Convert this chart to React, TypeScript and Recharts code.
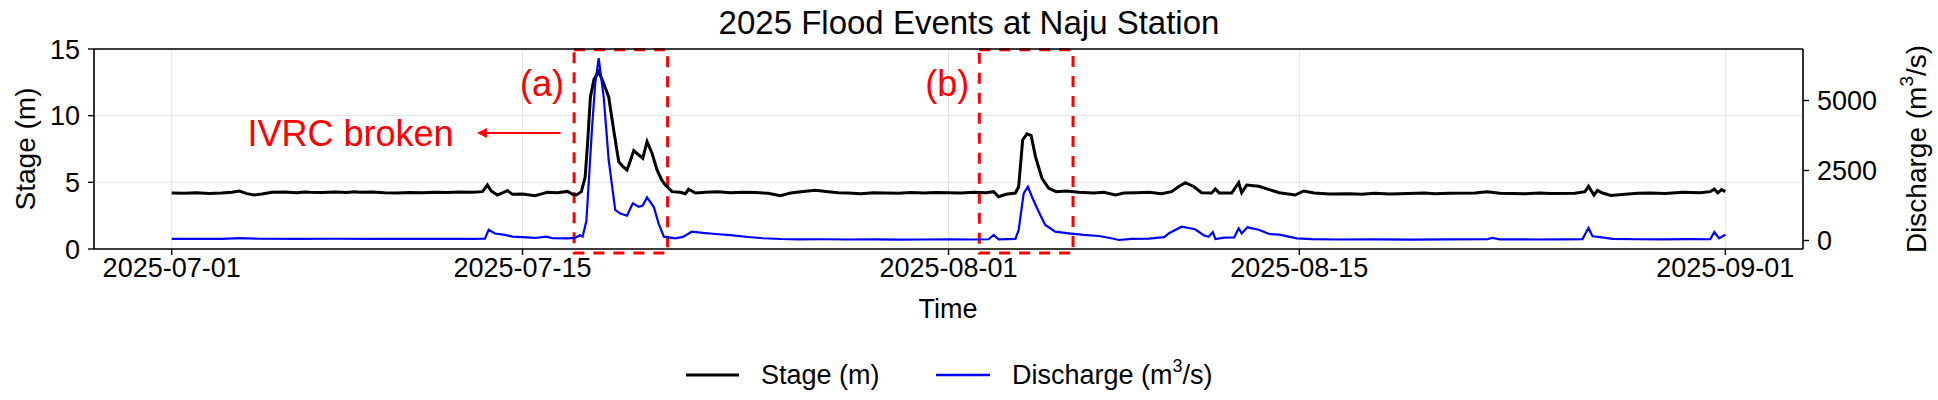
import {
  ComposedChart,
  Line,
  XAxis,
  YAxis,
  CartesianGrid,
  ReferenceArea,
  ReferenceLine,
  ReferenceDot,
} from "recharts";

// time axis: days since 2025-07-01 00:00
const tickDays = [0, 14, 31, 45, 62];
const tickLabels = ["2025-07-01", "2025-07-15", "2025-08-01", "2025-08-15", "2025-09-01"];

// water stage (m)
const stageDay = [
  0, 0.5, 1, 1.5, 2, 2.4, 2.7, 3, 3.3, 3.6, 4, 4.5, 5, 5.3, 5.5, 6, 6.5, 7, 7.3, 7.5, 8, 8.5,
  9, 9.5, 10, 10.5, 11, 11.5, 12, 12.4, 12.6, 12.75, 13, 13.2, 13.4, 13.6, 14, 14.5,
  14.8, 15, 15.4, 15.8, 16, 16.15, 16.35, 16.5, 16.6, 16.71, 16.85, 17.04, 17.2, 17.44,
  17.64, 17.84, 18, 18.17, 18.3, 18.44, 18.64, 18.8, 18.97, 19.17, 19.37, 19.55, 19.7,
  19.97, 20.3, 20.5, 20.63, 20.9, 21.3, 21.8, 22.3, 22.8, 23.3, 23.8, 24.29, 24.7, 25.2,
  25.69, 26.2, 26.6, 27, 27.5, 28, 28.5, 29, 29.5, 30, 30.5, 31, 31.5, 32, 32.5, 32.8,
  33, 33.3, 33.67, 33.8, 33.96, 34.13, 34.3, 34.47, 34.73, 35, 35.3, 35.7, 36.2, 36.8,
  37.2, 37.66, 38, 38.5, 39, 39.5, 39.9, 40.18, 40.45, 40.8, 41.1, 41.5, 41.65, 41.8,
  42.3, 42.58, 42.7, 42.9, 43.38, 43.8, 44.2, 44.84, 45.17, 45.6, 46.2, 47, 47.5, 48,
  48.6, 49, 50, 50.4, 51, 52, 52.5, 53, 54, 54.6, 55, 56, 56.4, 56.54, 56.76, 56.9, 57.1, 57.44, 58,
  58.5, 59, 59.6, 60.3, 61, 61.4, 61.56, 61.7, 61.85, 62,
];
const stageM = [
  4.2, 4.18, 4.22, 4.17, 4.2, 4.25, 4.35, 4.15, 4.05, 4.12, 4.25, 4.28, 4.22, 4.28, 4.26, 4.24, 4.27, 4.23, 4.29, 4.25, 4.28, 4.22,
  4.2, 4.24, 4.21, 4.26, 4.24, 4.27, 4.25, 4.3, 4.8, 4.35, 4.05, 4.2, 4.38, 4.1, 4.12, 4.0,
  4.15, 4.25, 4.22, 4.32, 4.1, 4.05, 4.3, 5.4, 8.0, 11.4, 12.7, 13.3, 12.6, 11.4,
  8.9, 6.55, 6.2, 5.93, 6.6, 7.38, 7.05, 6.8, 8.05, 7.18, 5.93, 5.2, 4.8,
  4.3, 4.25, 4.15, 4.48, 4.2, 4.25, 4.3, 4.22, 4.26, 4.24, 4.18, 4.0, 4.2, 4.32,
  4.4, 4.3, 4.22, 4.2, 4.15, 4.22, 4.2, 4.18, 4.23, 4.2, 4.24, 4.22, 4.2, 4.25, 4.22, 4.3,
  3.92, 4.1, 4.2, 4.67, 8.18, 8.63, 8.5, 6.93, 5.3, 4.55, 4.3, 4.35, 4.25, 4.2,
  4.25, 4.05, 4.2, 4.22, 4.26, 4.15, 4.3, 4.67, 4.97, 4.67, 4.22, 4.2, 4.5, 4.2,
  4.2, 4.97, 4.22, 4.8, 4.7, 4.45, 4.22, 4.05, 4.35, 4.2, 4.12, 4.15, 4.1, 4.18,
  4.12, 4.15, 4.2, 4.14, 4.18, 4.2, 4.3, 4.18, 4.15, 4.2, 4.16, 4.18, 4.3, 4.7, 4.05, 4.4, 4.2, 4.02, 4.1,
  4.18, 4.2, 4.17, 4.25, 4.22, 4.3, 4.5, 4.2, 4.45, 4.3,
];

// discharge (m³/s)
const dischargeDay = [
  0, 1, 2, 2.7, 3.5, 5, 6.5, 8, 9.5, 11, 12, 12.5, 12.65, 12.9, 13.3, 13.6, 14, 14.5,
  14.95, 15.2, 15.8, 16.1, 16.3, 16.4, 16.55, 16.77, 16.9, 17.04, 17.24, 17.44, 17.7,
  17.9, 18.17, 18.4, 18.64, 18.8, 18.97, 19.24, 19.43, 19.64, 20.1, 20.4, 20.76, 21.2,
  21.7, 22.3, 23, 23.6, 24.3, 25, 26, 27, 28, 29, 30, 31, 32, 32.6, 32.8, 33, 33.67,
  33.8, 34, 34.17, 34.33, 34.6, 34.86, 35.26, 35.8, 36.4, 37, 37.5, 37.8, 38.3, 39,
  39.6, 39.8, 40.3, 40.84, 41.2, 41.38, 41.55, 41.65, 42, 42.4, 42.58, 42.7, 42.93,
  43.38, 43.8, 44.2, 44.9, 45.5, 46.5, 48, 49.5, 51, 52.5, 52.7, 53, 54.5, 55.5, 56.3,
  56.54, 56.7, 57, 57.5, 58.5, 59.5, 60.5, 61.4, 61.56, 61.75, 61.9, 62,
];
const dischargeQ = [
  60, 55, 60, 85, 62, 58, 62, 55, 58, 55, 60, 65, 380, 250, 200, 140, 120, 90,
  140, 80, 75, 95, 190, 140, 700, 3946, 5600, 6514, 5124, 2874, 1089,
  960, 885, 1328, 1207, 1250, 1542, 1196, 614, 135, 78, 130, 314, 270,
  232, 190, 124, 80, 53, 40, 45, 35, 38, 30, 35, 40, 35, 45, 196, 40, 60,
  374, 1685, 1921, 1564, 1028, 553, 314, 257, 200, 160, 80, 17, 60, 70,
  120, 257, 492, 400, 180, 135, 300, 50, 100, 110, 435, 250, 471,
  385, 232, 207, 78, 50, 35, 40, 30, 40, 45, 90, 40, 35, 40, 50,
  446, 150, 120, 60, 45, 40, 50, 45, 303, 80, 150, 207,
];

// flood event windows (days)
const eventA = [16.06, 19.79];
const eventB = [32.23, 35.97];

const stageData = stageDay.map((t, i) => ({ t, v: stageM[i] }));
const dischargeData = dischargeDay.map((t, i) => ({ t, v: dischargeQ[i] }));

const FONT = "'Liberation Sans', Arial, Helvetica, sans-serif";
const RED = "#ff0000";

function EventTag({ viewBox, text }: { viewBox?: any; text: string }) {
  if (!viewBox) return null;
  return (
    <text
      x={viewBox.x - 10}
      y={viewBox.y + 34}
      textAnchor="end"
      dominantBaseline="central"
      fill={RED}
      fontSize={36}
      fontFamily={FONT}
    >
      {text}
    </text>
  );
}

function BrokenNote(props: { cx?: number; cy?: number }) {
  const { cx = 0, cy = 0 } = props;
  return (
    <text
      x={cx}
      y={cy}
      textAnchor="end"
      dominantBaseline="central"
      fill={RED}
      fontSize={36}
      fontFamily={FONT}
    >
      IVRC broken
    </text>
  );
}

export default function App() {
  return (
    <div style={{ position: "absolute", left: 0, top: 0, width: 1938, height: 400, background: "#fff" }}>
      <ComposedChart
        width={1938}
        height={400}
        margin={{ top: 49, right: 75, bottom: 111, left: 34 }}
      >
        <CartesianGrid yAxisId="stage" stroke="#e3e3e3" strokeWidth={1} />

        <XAxis
          dataKey="t"
          type="number"
          domain={[-3.1, 65.1]}
          ticks={tickDays}
          tickFormatter={(d: number) => tickLabels[tickDays.indexOf(d)]}
          allowDataOverflow
          height={40}
          tick={{ fontSize: 27, fill: "#000", fontFamily: FONT }}
          tickSize={6}
          tickMargin={3}
          axisLine={{ stroke: "#000", strokeWidth: 1.6 }}
          tickLine={{ stroke: "#000", strokeWidth: 1.4 }}
        />
        <YAxis
          yAxisId="stage"
          orientation="left"
          domain={[0, 15]}
          ticks={[0, 5, 10, 15]}
          width={60}
          tick={{ fontSize: 27, fill: "#000", fontFamily: FONT }}
          tickSize={6}
          tickMargin={8}
          axisLine={{ stroke: "#000", strokeWidth: 1.6 }}
          tickLine={{ stroke: "#000", strokeWidth: 1.4 }}
        />
        <YAxis
          yAxisId="discharge"
          orientation="right"
          domain={[-304, 6839]}
          ticks={[0, 2500, 5000]}
          allowDataOverflow
          width={60}
          tick={{ fontSize: 27, fill: "#000", fontFamily: FONT }}
          tickSize={6}
          tickMargin={8}
          axisLine={{ stroke: "#000", strokeWidth: 1.6 }}
          tickLine={{ stroke: "#000", strokeWidth: 1.4 }}
        />

        {/* top spine */}
        <ReferenceLine yAxisId="stage" y={15} stroke="#000" strokeWidth={1.6} />

        <Line
          data={stageData}
          dataKey="v"
          yAxisId="stage"
          type="linear"
          stroke="#000"
          strokeWidth={3}
          dot={false}
          isAnimationActive={false}
        />
        <Line
          data={dischargeData}
          dataKey="v"
          yAxisId="discharge"
          type="linear"
          stroke="#0000ff"
          strokeWidth={2.2}
          dot={false}
          isAnimationActive={false}
        />

        <ReferenceArea
          yAxisId="stage"
          x1={eventA[0]}
          x2={eventA[1]}
          y1={-0.3}
          y2={14.95}
          fill="none"
          stroke={RED}
          strokeWidth={3}
          strokeDasharray="11 9"
          ifOverflow="visible"
          label={(p: any) => <EventTag viewBox={p.viewBox} text="(a)" />}
        />
        <ReferenceArea
          yAxisId="stage"
          x1={eventB[0]}
          x2={eventB[1]}
          y1={-0.3}
          y2={14.95}
          fill="none"
          stroke={RED}
          strokeWidth={3}
          strokeDasharray="11 9"
          ifOverflow="visible"
          label={(p: any) => <EventTag viewBox={p.viewBox} text="(b)" />}
        />

        {/* arrow pointing back to the pre-event period */}
        <ReferenceLine
          yAxisId="stage"
          segment={[
            { x: 15.52, y: 8.7 },
            { x: 12.5, y: 8.7 },
          ]}
          stroke={RED}
          strokeWidth={2}
          markerEnd="url(#arrowHead)"
          ifOverflow="visible"
        />
        <ReferenceDot
          yAxisId="stage"
          x={11.25}
          y={8.7}
          r={0}
          ifOverflow="visible"
          shape={(p: any) => <BrokenNote cx={p.cx} cy={p.cy} />}
        />
      </ComposedChart>

      <svg
        width={1938}
        height={400}
        style={{ position: "absolute", left: 0, top: 0, pointerEvents: "none" }}
        fontFamily={FONT}
      >
        <defs>
          <marker
            id="arrowHead"
            viewBox="0 0 10 10"
            refX="2"
            refY="5"
            markerWidth="6"
            markerHeight="5"
            markerUnits="strokeWidth"
            orient="auto"
          >
            <path d="M0,0 L10,5 L0,10 z" fill={RED} />
          </marker>
        </defs>

        <text x={969} y={22} textAnchor="middle" dominantBaseline="central" fontSize={33}>
          2025 Flood Events at Naju Station
        </text>
        <text x={948} y={309} textAnchor="middle" dominantBaseline="central" fontSize={27}>
          Time
        </text>
        <text
          x={25}
          y={149}
          textAnchor="middle"
          dominantBaseline="central"
          fontSize={28}
          transform="rotate(-90 25 149)"
        >
          Stage (m)
        </text>
        <text
          x={1916}
          y={149}
          textAnchor="middle"
          dominantBaseline="central"
          fontSize={28}
          transform="rotate(-90 1916 149)"
        >
          Discharge (m<tspan dy={-10} fontSize={19}>3</tspan>
          <tspan dy={10}>/s)</tspan>
        </text>

        {/* legend */}
        <line x1={686} x2={739} y1={375} y2={375} stroke="#000" strokeWidth={3} />
        <text x={761} y={375} dominantBaseline="central" fontSize={27}>
          Stage (m)
        </text>
        <line x1={936} x2={990} y1={375} y2={375} stroke="#0000ff" strokeWidth={2.5} />
        <text x={1012} y={375} dominantBaseline="central" fontSize={27}>
          Discharge (m<tspan dy={-9} fontSize={18}>3</tspan>
          <tspan dy={9}>/s)</tspan>
        </text>
      </svg>
    </div>
  );
}
